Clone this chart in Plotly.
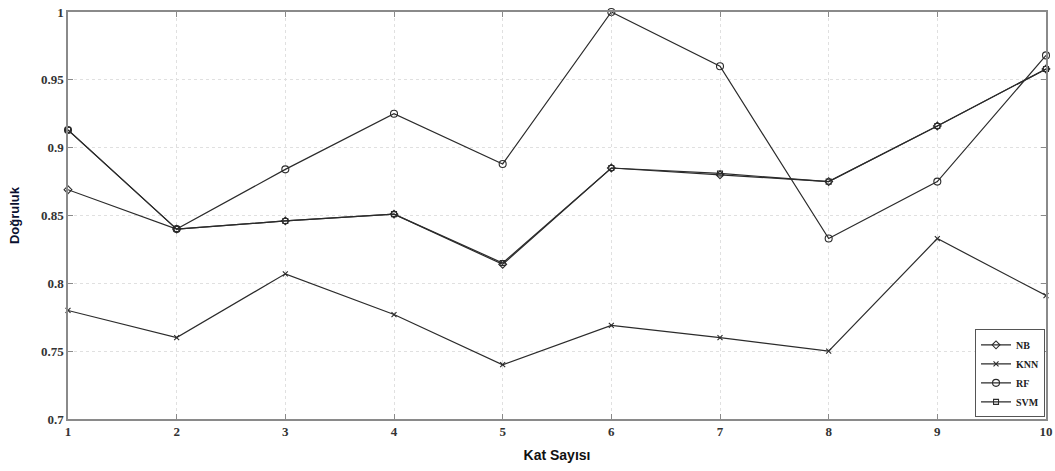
import plotly.graph_objects as go

folds = [1, 2, 3, 4, 5, 6, 7, 8, 9, 10]
nb = [0.869, 0.840, 0.846, 0.851, 0.814, 0.885, 0.880, 0.875, 0.916, 0.958]
knn = [0.780, 0.760, 0.807, 0.777, 0.740, 0.769, 0.760, 0.750, 0.833, 0.791]
rf = [0.913, 0.840, 0.884, 0.925, 0.888, 1.000, 0.960, 0.833, 0.875, 0.968]
svm = [0.913, 0.840, 0.846, 0.851, 0.815, 0.885, 0.881, 0.875, 0.916, 0.958]
ytickvals = [0.7, 0.75, 0.8, 0.85, 0.9, 0.95, 1.0]
yticktext = ["0.7", "0.75", "0.8", "0.85", "0.9", "0.95", "1"]

series = [
    ("NB", nb, "diamond-open", 6),
    ("KNN", knn, "x-thin-open", 5),
    ("RF", rf, "circle-open", 7),
    ("SVM", svm, "square-open", 5),
]

fig = go.Figure()
for name, vals, sym, sz in series:
    fig.add_trace(go.Scatter(
        x=folds, y=vals, mode="lines+markers", name="<b>" + name + "</b>",
        line=dict(color="#2b2b2b", width=1.2),
        marker=dict(symbol=sym, size=sz, color="#2b2b2b",
                    line=dict(color="#2b2b2b", width=1.1)),
        cliponaxis=False,
    ))

tickfont = dict(family="Liberation Serif", size=13, color="#333333")
axis_common = dict(
    showline=True, linecolor="#8a8a8a", linewidth=1.5, mirror="ticks",
    ticks="inside", ticklen=5, tickcolor="#8a8a8a",
    showgrid=True, gridcolor="#e0e0e0", gridwidth=1, griddash="dot",
    zeroline=False, tickfont=tickfont, automargin=False,
)

fig.update_layout(
    width=1055, height=471,
    margin=dict(l=68, r=9, t=12, b=52),
    paper_bgcolor="white", plot_bgcolor="white",
    showlegend=True,
    legend=dict(
        x=0.999, y=0.004, xanchor="right", yanchor="bottom",
        bgcolor="white", bordercolor="#555555", borderwidth=1,
        font=dict(family="Liberation Serif", size=10, color="#222222"),
        tracegroupgap=0, itemwidth=30,
    ),
    xaxis=dict(
        range=[1, 10], tickmode="array", tickvals=folds,
        ticktext=["<b>%d</b>" % f for f in folds],
        title=dict(text="<b>Kat Sayısı</b>", standoff=12,
                   font=dict(family="Liberation Sans Narrow, Liberation Sans", size=14, color="#111111")),
        **axis_common,
    ),
    yaxis=dict(
        range=[0.7, 1.0], tickmode="array",
        tickvals=ytickvals,
        ticktext=["<b>%s</b>" % t for t in yticktext],
        title=dict(text="<b>Doğruluk</b>", standoff=18,
                   font=dict(family="Liberation Sans", size=13, color="#0a1030")),
        **axis_common,
    ),
)

fig.write_html("out.html", config={"displayModeBar": False},
               post_script="document.body.style.margin='0';document.body.style.overflow='hidden';")
